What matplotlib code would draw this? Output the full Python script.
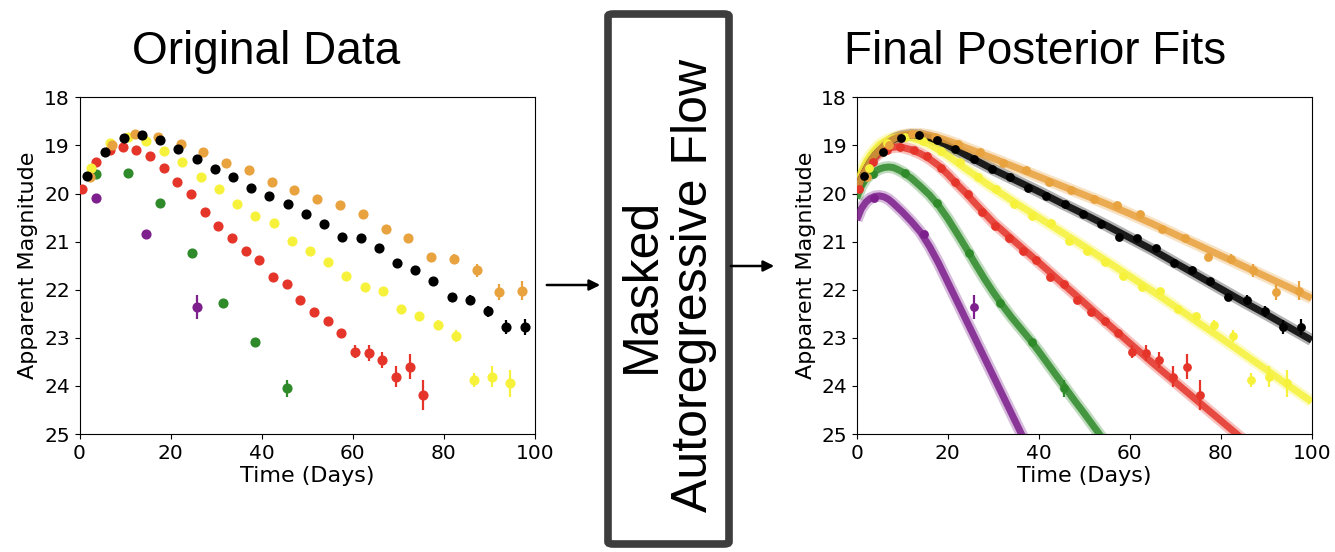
import matplotlib.pyplot as plt
from matplotlib.patches import FancyBboxPatch, FancyArrowPatch

# Observed light curves (days, magnitudes, 1-sigma errors) per band.
RED_T = [0.5, 3.6, 6.6, 9.5, 12.5, 15.5, 18.5, 21.5, 24.5, 27.5, 30.5, 33.5, 36.5,
         39.5, 42.5, 45.5, 48.5, 51.5, 54.5, 57.5, 60.5, 63.5, 66.5, 69.5, 72.5, 75.5]
RED_M = [19.9, 19.34, 19.1, 19.03, 19.1, 19.21, 19.46, 19.77, 20.01, 20.38, 20.67, 20.92, 21.19,
         21.39, 21.74, 21.88, 22.21, 22.46, 22.65, 22.89, 23.29, 23.32, 23.46, 23.81, 23.6, 24.19]
RED_E = [0.03] * 20 + [0.13, 0.16, 0.17, 0.22, 0.26, 0.32]

BLACK_T = [1.7, 5.7, 9.7, 13.7, 17.7, 21.7, 25.7, 29.7, 33.7, 37.7, 41.7, 45.7, 49.7,
           53.7, 57.7, 61.7, 65.7, 69.7, 73.7, 77.7, 81.7, 85.7, 89.7, 93.7, 97.7]
BLACK_M = [19.64, 19.13, 18.85, 18.78, 18.89, 19.07, 19.29, 19.49, 19.65, 19.88, 20.05, 20.22, 20.43,
           20.63, 20.9, 20.93, 21.14, 21.44, 21.6, 21.82, 22.16, 22.21, 22.45, 22.78, 22.78]
BLACK_E = [0.03] * 20 + [0.08, 0.1, 0.12, 0.15, 0.17]

ORANGE_T = [2.2, 7.2, 12.2, 17.2, 22.2, 27.2, 32.2, 37.2, 42.2, 47.2, 52.2, 57.2, 62.2,
            67.2, 72.2, 77.2, 82.2, 87.2, 92.2, 97.2]
ORANGE_M = [19.66, 18.99, 18.77, 18.82, 18.98, 19.13, 19.37, 19.52, 19.77, 19.93, 20.12, 20.24, 20.43,
            20.74, 20.93, 21.33, 21.36, 21.6, 22.05, 22.02]
ORANGE_E = [0.03] * 15 + [0.08, 0.1, 0.13, 0.17, 0.2]

YELLOW_T = [2.6, 6.6, 10.6, 14.6, 18.6, 22.6, 26.6, 30.6, 34.6, 38.6, 42.6, 46.6, 50.6,
            54.6, 58.6, 62.6, 66.6, 70.6, 74.6, 78.6, 82.6, 86.6, 90.6, 94.6]
YELLOW_M = [19.46, 18.96, 18.82, 18.9, 19.12, 19.35, 19.66, 19.91, 20.22, 20.47, 20.61, 20.98, 21.19,
            21.43, 21.71, 21.94, 22.03, 22.4, 22.54, 22.73, 22.96, 23.88, 23.81, 23.95]
YELLOW_E = [0.03] * 19 + [0.1, 0.12, 0.15, 0.22, 0.28]

GREEN_T = [3.6, 10.6, 17.6, 24.6, 31.6, 38.6, 45.6]
GREEN_M = [19.59, 19.57, 20.2, 21.24, 22.28, 23.09, 24.05]
GREEN_E = [0.03, 0.03, 0.03, 0.03, 0.04, 0.06, 0.18]

PURPLE_T = [3.7, 14.7, 25.7]
PURPLE_M = [20.1, 20.85, 22.35]
PURPLE_E = [0.03, 0.05, 0.25]

# Posterior fit curves.
PURPLE_FIT_T = [0, 1, 2, 3, 4, 5, 6, 7, 8, 10, 12, 14, 16, 18, 20, 22, 24, 26, 28, 30, 32, 34, 36, 38]
PURPLE_FIT_M = [20.55, 20.32, 20.18, 20.1, 20.06, 20.05, 20.07, 20.12, 20.2, 20.38, 20.58, 20.8,
                21.1, 21.45, 21.84, 22.23, 22.62, 23.01, 23.4, 23.79, 24.18, 24.57, 24.96, 25.35]

GREEN_FIT_T = [0, 1, 2, 3, 4, 5, 6, 7, 8, 9, 10, 12, 14, 16, 18, 20, 22, 24, 26, 28, 30, 32, 34,
               36, 38, 40, 42, 44, 46, 48, 50, 52, 54, 56]
GREEN_FIT_M = [20.1, 19.85, 19.7, 19.6, 19.54, 19.49, 19.46, 19.45, 19.46, 19.5, 19.55, 19.68, 19.85,
               20.03, 20.25, 20.52, 20.82, 21.13, 21.45, 21.76, 22.05, 22.32, 22.57, 22.8, 23.03,
               23.28, 23.54, 23.8, 24.06, 24.32, 24.57, 24.83, 25.09, 25.35]

RED_FIT_T = [0, 1, 2, 3, 4, 5, 6, 7, 8, 9, 10, 12, 14, 16, 18, 20, 22, 24, 26, 28, 30, 35, 40,
             45, 50, 55, 60, 65, 70, 75, 80, 85]
RED_FIT_M = [19.9, 19.68, 19.5, 19.36, 19.25, 19.16, 19.1, 19.06, 19.04, 19.03, 19.04, 19.09, 19.17,
             19.28, 19.42, 19.6, 19.8, 19.99, 20.2, 20.4, 20.6, 21.02, 21.43, 21.85, 22.27, 22.69,
             23.11, 23.52, 23.92, 24.32, 24.72, 25.12]

LONG_FIT_T = [0, 1, 2, 3, 4, 5, 6, 7, 8, 9, 10, 12, 14, 16, 18, 20, 22, 24, 26, 28, 30, 35, 40,
              45, 50, 55, 60, 65, 70, 75, 80, 85, 90, 95, 100]
YELLOW_FIT_M = [19.85, 19.55, 19.35, 19.2, 19.08, 18.98, 18.92, 18.87, 18.84, 18.82, 18.82, 18.84,
                18.9, 18.98, 19.09, 19.21, 19.35, 19.49, 19.62, 19.76, 19.89, 20.2, 20.5, 20.8,
                21.1, 21.41, 21.72, 22.03, 22.35, 22.68, 23.0, 23.33, 23.66, 24.0, 24.33]
BLACK_FIT_M = [19.95, 19.7, 19.5, 19.33, 19.2, 19.1, 19.01, 18.94, 18.88, 18.84, 18.81, 18.78,
               18.79, 18.84, 18.91, 19.0, 19.1, 19.2, 19.3, 19.4, 19.5, 19.73, 19.96, 20.2,
               20.43, 20.67, 20.92, 21.17, 21.44, 21.71, 21.98, 22.25, 22.51, 22.78, 23.05]
ORANGE_FIT_M = [19.95, 19.7, 19.5, 19.33, 19.2, 19.1, 19.0, 18.93, 18.87, 18.82, 18.79, 18.76,
                18.76, 18.79, 18.84, 18.9, 18.97, 19.05, 19.12, 19.2, 19.27, 19.46, 19.65, 19.84,
                20.03, 20.22, 20.42, 20.63, 20.85, 21.07, 21.29, 21.51, 21.73, 21.95, 22.18]

C_RED = "#e5352a"
C_BLACK = "#000000"
C_ORANGE = "#e8a23e"
C_YELLOW = "#f6f23c"
C_GREEN = "#2f8a2a"
C_PURPLE = "#7d1f8c"

bands = [
    (PURPLE_T, PURPLE_M, PURPLE_E, C_PURPLE),
    (GREEN_T, GREEN_M, GREEN_E, C_GREEN),
    (RED_T, RED_M, RED_E, C_RED),
    (YELLOW_T, YELLOW_M, YELLOW_E, C_YELLOW),
    (ORANGE_T, ORANGE_M, ORANGE_E, C_ORANGE),
    (BLACK_T, BLACK_M, BLACK_E, C_BLACK),
]

# drawing order: yellow lowest so the red / black / orange bands sit over it
fits = [
    (LONG_FIT_T, YELLOW_FIT_M, C_YELLOW),
    (PURPLE_FIT_T, PURPLE_FIT_M, C_PURPLE),
    (GREEN_FIT_T, GREEN_FIT_M, C_GREEN),
    (RED_FIT_T, RED_FIT_M, C_RED),
    (LONG_FIT_T, BLACK_FIT_M, C_BLACK),
    (LONG_FIT_T, ORANGE_FIT_M, C_ORANGE),
]

W, H = 1335, 552
fig = plt.figure(figsize=(W / 100, H / 100), dpi=100)


def style_axes(ax):
    ax.set_xlim(0, 100)
    ax.set_ylim(25, 18)
    ax.set_xticks([0, 20, 40, 60, 80, 100])
    ax.set_yticks([18, 19, 20, 21, 22, 23, 24, 25])
    ax.tick_params(labelsize=14.5)
    ax.set_xlabel("Time (Days)", fontsize=16, labelpad=2)
    ax.set_ylabel("Apparent Magnitude", fontsize=16, labelpad=4)


def draw_points(ax, ms):
    for t, m, e, c in bands:
        ax.errorbar(t, m, yerr=e, fmt="o", color=c, ms=ms, elinewidth=1.6,
                    capsize=0, zorder=4)


ax1 = fig.add_axes([79.5 / W, 1 - 434 / H, 455.5 / W, 336.7 / H])
draw_points(ax1, 6.3)
style_axes(ax1)

ax2 = fig.add_axes([856.7 / W, 1 - 434 / H, 455 / W, 336.7 / H])
for t, m, c in fits:
    ax2.plot(t, m, color=c, lw=8.5, alpha=0.3, solid_capstyle="butt", zorder=2)
    ax2.plot(t, m, color=c, lw=5, alpha=0.85, solid_capstyle="butt", zorder=3)
draw_points(ax2, 5.3)
style_axes(ax2)

title_font = ["Liberation Sans", "DejaVu Sans"]
fig.text(266 / W, 1 - 52 / H, "Original Data", fontsize=33, family=title_font,
         ha="center", va="center")
fig.text(1035 / W, 1 - 52 / H, "Final Posterior Fits", fontsize=33, family=title_font,
         ha="center", va="center")

# Middle box with the flow label
box = FancyBboxPatch((608 / W, 1 - 544 / H), 121 / W, 530 / H,
                     boxstyle="round,pad=0,rounding_size=0.004",
                     transform=fig.transFigure, facecolor="white",
                     edgecolor="#3d3d3d", linewidth=5.5)
fig.add_artist(box)
fig.text(668 / W, 1 - 285 / H, "Masked\nAutoregressive Flow", rotation=90,
         fontsize=36, family=title_font, ha="center", va="center",
         multialignment="center", linespacing=1.15)

for x0, x1, y in [(544, 603, 285), (728, 777, 266)]:
    arrow = FancyArrowPatch((x0 / W, 1 - y / H), (x1 / W, 1 - y / H),
                            transform=fig.transFigure, arrowstyle="-|>",
                            mutation_scale=16, linewidth=1.8, color="black")
    fig.add_artist(arrow)

fig.savefig("out.png", dpi=100)
